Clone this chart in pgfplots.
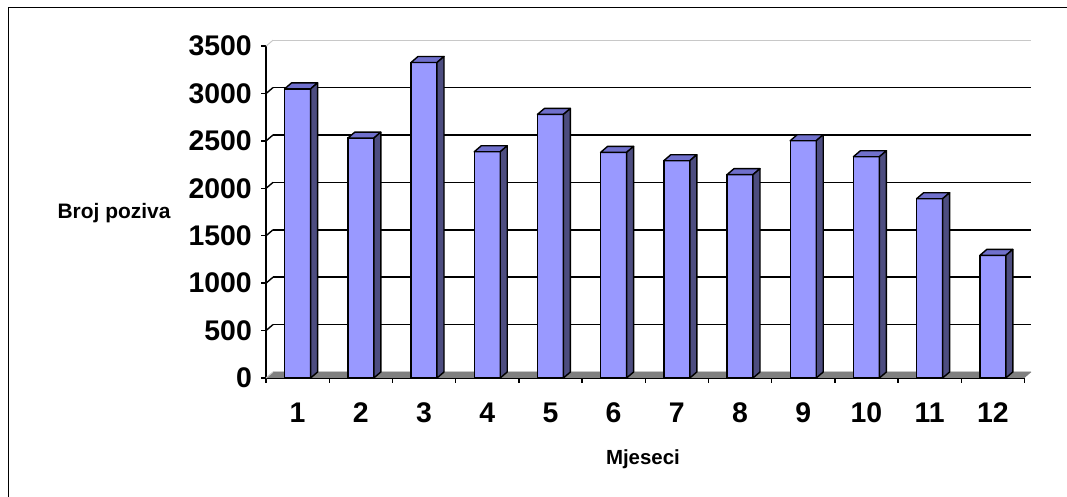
\documentclass[border=0pt]{standalone}
\usepackage{fontspec}
\setmainfont{Liberation Sans}
\usepackage{pgfplots}
\usepackage{pgfplotstable}
\pgfplotsset{compat=1.18}
\definecolor{barfront}{HTML}{9999FF}
\definecolor{barside}{HTML}{4D4D80}
\definecolor{bartop}{HTML}{7070CC}
\definecolor{floorgray}{HTML}{808080}
\definecolor{edgegray}{HTML}{C8C8C8}
\pgfdeclareplotmark{nothing}{}
\pgfplotstableread{
x v
1 3050
2 2530
3 3328
4 2386
5 2780
6 2380
7 2292
8 2145
9 2503
10 2334
11 1891
12 1293
}\calls
\begin{document}
\begin{tikzpicture}[x=1bp,y=1bp]
\path[use as bounding box] (0,0) rectangle (1067,497);
\draw[line width=1bp] (8,-5) -- (8,489) -- (1075,489);
% back wall with gridlines
\begin{axis}[
  at={(273bp,125bp)}, anchor=south west,
  scale only axis, width=758.4bp, height=331.8bp,
  xmin=0.5, xmax=12.5, ymin=0, ymax=3500,
  axis line style={draw=none},
  xtick=\empty,
  ytick={500,1000,1500,2000,2500,3000},
  yticklabels={},
  major tick length=0pt,
  ymajorgrids,
  grid style={black, line width=1.5bp},
  extra y ticks={0,3500},
  extra y tick labels={},
  extra y tick style={grid style={draw=edgegray, line width=1bp}},
]
\end{axis}
% front axis with bars
\begin{axis}[
  at={(266bp,119bp)}, anchor=south west,
  scale only axis, width=758.4bp, height=331.8bp,
  xmin=0.5, xmax=12.5, ymin=0, ymax=3500,
  axis lines*=left,
  axis line style={black, line width=1.4bp},
  clip=false,
  tick align=outside,
  major tick length=5bp, minor tick length=5bp,
  xtick={1,...,12},
  minor xtick={0.5,1.5,...,12.5},
  major x tick style={draw=none},
  minor x tick style={black, line width=1.4bp},
  ytick={0,500,...,3500},
  y tick style={black, line width=1.4bp},
  /pgf/number format/assume math mode=true,
  /pgf/number format/1000 sep={},
  ticklabel style={font=\fontsize{28.5}{28.5}\selectfont\bfseries, inner sep=0pt},
  xticklabel style={anchor=north, text height=20.4bp, text depth=0pt, yshift=-19bp},
  yticklabel style={xshift=-9bp},
  xlabel={Mjeseci},
  ylabel={Broj poziva},
  every axis x label/.style={at={(axis description cs:0.497,-0.262)}, anchor=base, inner sep=0pt, font=\fontsize{20.5}{20.5}\selectfont\bfseries},
  every axis y label/.style={at={(axis description cs:-0.275,0.482)}, anchor=base west, inner sep=0pt, font=\fontsize{21}{21}\selectfont\bfseries},
]
% floor
\fill[floorgray] (axis cs:0.5,0) -- (axis cs:12.5,0) -- ([shift={(7bp,6bp)}]axis cs:12.5,0) -- ([shift={(7bp,6bp)}]axis cs:0.5,0) -- cycle;
\draw[edgegray, line width=1bp] ([shift={(7bp,6bp)}]axis cs:0.5,0) -- ([shift={(7bp,6bp)}]axis cs:12.5,0);
% side wall gridlines
\pgfplotsinvokeforeach{500,1000,1500,2000,2500,3000}{
  \draw[black, line width=1.4bp] (axis cs:0.5,#1) -- ++(7bp,6bp);
}
\draw[edgegray, line width=1bp] (axis cs:0.5,3500) -- ++(7bp,6bp);
\draw[edgegray, line width=1bp] (axis cs:0.5,0) -- ++(7bp,6bp);
% bar fronts
\addplot[ybar, bar width=26bp, fill=barfront, draw=black, line width=1.4bp] table[x=x, y=v] {\calls};
% bar tops and sides
\addplot[scatter, only marks, mark=nothing,
  visualization depends on={\thisrow{v} \as \yv},
  scatter/@pre marker code/.code={%
    \pgfmathsetmacro\hb{6-\yv*0.0948}%
    \pgfmathsetmacro\hf{-\yv*0.0948}%
    \filldraw[fill=bartop, draw=black, line width=1.4bp, line join=round]
      (-13bp,0bp) -- (13bp,0bp) -- (20bp,6bp) -- (-6bp,6bp) -- cycle;
    \filldraw[fill=barside, draw=black, line width=1.4bp, line join=round]
      (13bp,0bp) -- (20bp,6bp) -- (20bp,\hb bp) -- (13bp,\hf bp) -- cycle;
  },
  scatter/@post marker code/.code={},
] table[x=x, y=v] {\calls};
\end{axis}
\end{tikzpicture}
\end{document}
